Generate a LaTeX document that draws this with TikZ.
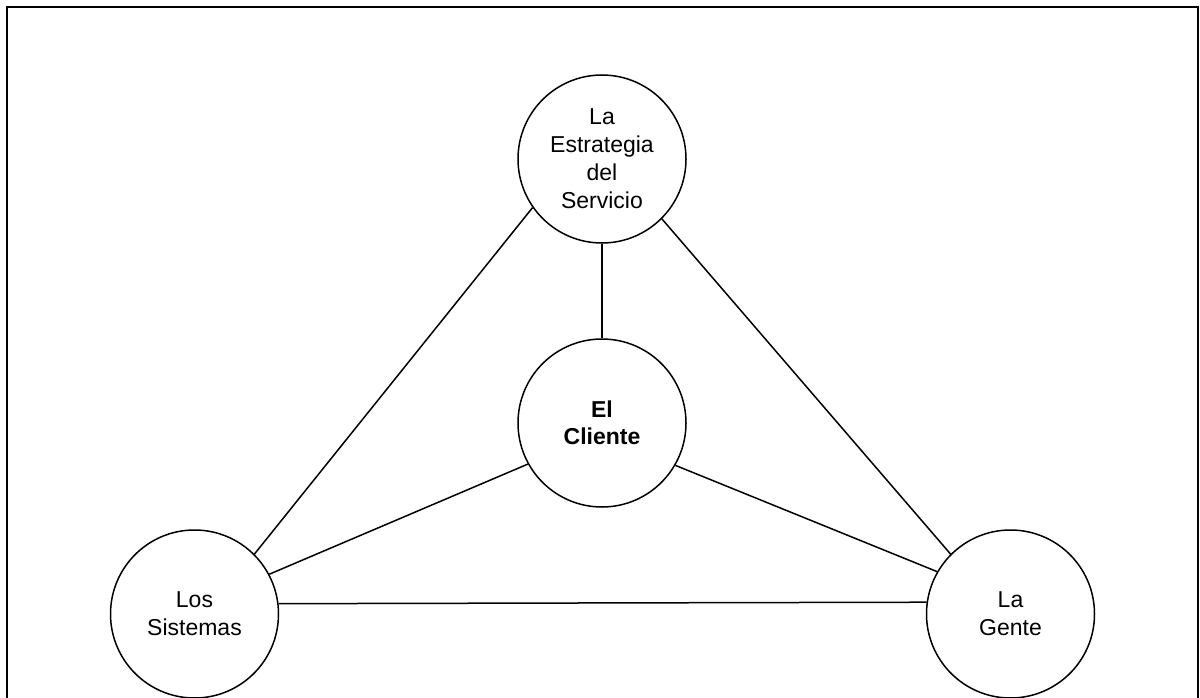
\documentclass[tikz,border=0pt]{standalone}
\usepackage{fontspec}
\setmainfont{Liberation Sans}
\begin{document}
\begin{tikzpicture}[x=1pt,y=-1pt,
  bubble/.style={circle,draw,line width=1.5pt,minimum size=168pt,inner sep=0pt,align=center,
    font={\fontsize{23}{28}\selectfont}},
  link/.style={draw,line width=1.5pt}]
\useasboundingbox (0,0) rectangle (1200,698);
\draw[line width=2pt] (7,700) -- (7,7.5) -- (1198,7.5) -- (1198,700);
\node[bubble] (s) at (602,159) {La\\Estrategia\\del\\Servicio};
\node[bubble,font={\fontsize{23}{27}\selectfont\bfseries}] (c) at (602,423) {El\\Cliente};
\node[bubble] (l) at (194.5,614) {Los\\Sistemas};
\node[bubble] (r) at (1010.5,614) {La\\Gente};
\draw[link] (s.270) -- (c.90);
\draw[link] (s.215.5) -- (l.45);
\draw[link] (s.315.5) -- (r.135);
\draw[link] (c.209.6) -- (l.28.8);
\draw[link] (c.330.8) -- (r.150.7);
\draw[link] (l.7.5) -- (r.172.5);
\end{tikzpicture}
\end{document}
